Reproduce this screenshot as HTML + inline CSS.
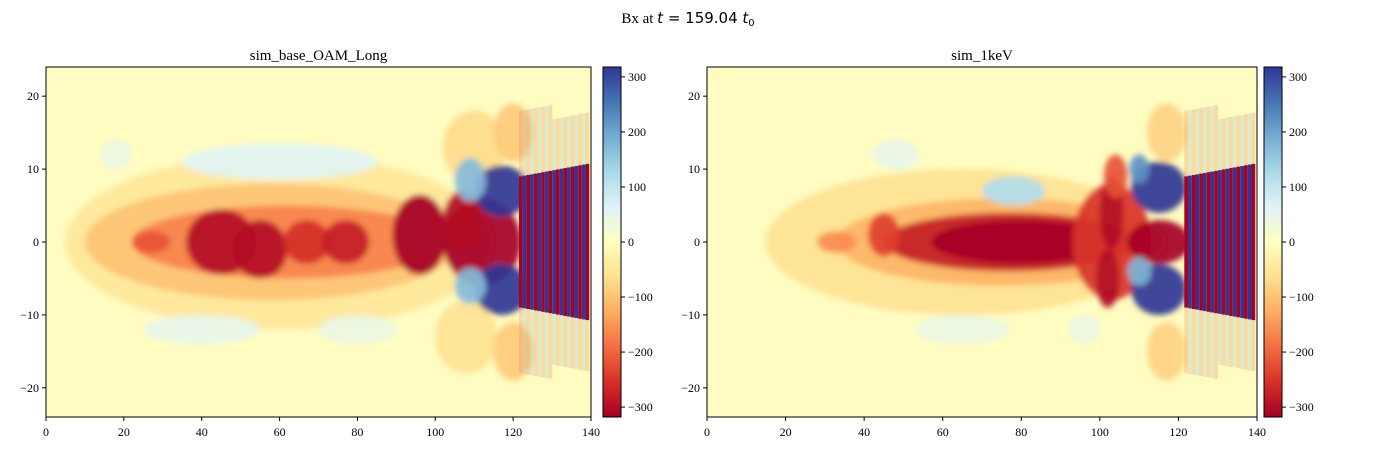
<!DOCTYPE html>
<html><head><meta charset="utf-8"><style>
body{margin:0;background:#fff;}
svg{display:block;font-family:"Liberation Serif",serif;}
</style></head><body>
<svg id="fig" width="1377" height="455">
<defs>
<linearGradient id="cmap" x1="0" y1="1" x2="0" y2="0">
<stop offset="0" stop-color="#a50026"/><stop offset="0.1" stop-color="#d73027"/><stop offset="0.2" stop-color="#f46d43"/><stop offset="0.3" stop-color="#fdae61"/><stop offset="0.4" stop-color="#fee090"/><stop offset="0.5" stop-color="#ffffbf"/><stop offset="0.6" stop-color="#e0f3f8"/><stop offset="0.7" stop-color="#abd9e9"/><stop offset="0.8" stop-color="#74add1"/><stop offset="0.9" stop-color="#4575b4"/><stop offset="1" stop-color="#313695"/>
</linearGradient>
<filter id="blur" x="-50%" y="-50%" width="200%" height="200%"><feGaussianBlur stdDeviation="3"/></filter>
<clipPath id="clipL"><rect x="46" y="67" width="545" height="350"/></clipPath>
<clipPath id="clipR"><rect x="707" y="67" width="550" height="350"/></clipPath>
</defs>
<text x="688" y="23" text-anchor="middle" font-size="15">Bx at <tspan font-family="'DejaVu Sans',sans-serif" font-style="italic">t</tspan><tspan font-family="'DejaVu Sans',sans-serif"> = 159.04 </tspan><tspan font-family="'DejaVu Sans',sans-serif" font-style="italic">t</tspan><tspan font-family="'DejaVu Sans',sans-serif" font-size="10" dy="3">0</tspan></text>
</svg>
<script>
// Blob features: [x, y, rx, ry, value]
const blobsLeft = [
 [60,0,55,12,-50],[58,0,48,8,-100],[62,0,40,5,-170],
 [45,0,9,4.5,-300],[55,-1,7,4,-300],[67,0,6,3,-260],[77,0,6,3,-280],[96,1,7,5.5,-320],
 [27,0,5,1.5,-220],[112,0,10,6,-320],[107,3,5,4,-300],
 [60,11,25,2.5,60],[40,-12,15,2,50],[80,-12,10,2,40],[18,12,4,2,40],
 [110,13,8,5,-70],[108,-13,8,5,-60],
 [117,7,7,3.5,340],[109,8.5,4,3,170],[117,-6.5,7,3.5,340],[109,-6,4,2.5,170],
 [120,15,5,4,-90],[120,-15,5,4,-90]
];
const blobsRight = [
 [65,0,50,10,-60],[75,0,42,6,-120],[77,0,32,4,-280],
 [80,0,23,3,-330],[45,1,4,3,-240],[33,0,5,1.5,-160],
 [103,0,10,8,-250],[103,4,3,5,-300],[102,-5,3,4,-300],[115,0,8,3,-320],
 [48,12,6,2,50],[78,7,8,2,120],[65,-12,12,2,40],[96,-12,4,2,40],
 [115,7.5,7,3.5,340],[110,10,2.5,2,220],[115,-6.5,7,3.5,340],[110,-4,3,2,180],
 [117,15,5,4,-80],[117,-15,5,4,-80],[104,9,3,3,-220]
];
const cbTicks = [300,200,100,0,-100,-200,-300];
const xTicks = [0,20,40,60,80,100,120,140];
const yTicks = [20,10,0,-10,-20];
const VMAX = 318;

const stops = ["#a50026","#d73027","#f46d43","#fdae61","#fee090","#ffffbf","#e0f3f8","#abd9e9","#74add1","#4575b4","#313695"];
function hex(h){return [1,3,5].map(i=>parseInt(h.substr(i,2),16));}
function color(v){
  let t=(v/VMAX+1)/2; t=Math.max(0,Math.min(1,t));
  const f=t*10, i=Math.min(9,Math.floor(f)), r=f-i;
  const a=hex(stops[i]), b=hex(stops[i+1]);
  return "rgb("+a.map((c,k)=>Math.round(c+(b[k]-c)*r)).join(",")+")";
}
const NS="http://www.w3.org/2000/svg";
const svg=document.getElementById('fig');
function mk(tag,attrs,parent){const e=document.createElementNS(NS,tag);for(const k in attrs)e.setAttribute(k,attrs[k]);(parent||svg).appendChild(e);return e;}

function panel(x0,w,clip,blobs,title,cbx,nm){
  const sx=v=>x0+v/140*w, sy=v=>242-v/24*175;
  const g=mk('g',{'clip-path':'url(#'+clip+')'});
  
  
  mk('rect',{x:x0,y:67,width:w,height:350,fill:'#fefcc0'},g);
  const bg=mk('g',{filter:'url(#blur)'},g);
  blobs.forEach(b=>{
    const e=mk('ellipse',{cx:sx(b[0]),cy:sy(b[1]),rx:b[2]/140*w,ry:b[3]/24*175,fill:color(b[4]),opacity:0.92},bg);
    
    
  });
  // oscillating wave front
  const step=0.95, pw=step/140*w;
  for(let xv=121.5,i=0;xv<139;xv+=step,i++){
    const h=9+(xv-121.5)*0.1;
    const hf=h+(xv<130?9:7);
    const s2=mk('rect',{x:sx(xv),y:sy(hf),width:pw,height:sy(-hf)-sy(hf),fill:i%2?color(160):color(-160),opacity:0.3},g);
    
    
    const s=mk('rect',{x:sx(xv),y:sy(h),width:pw,height:sy(-h)-sy(h),fill:i%2?color(330):color(-330)},g);
    
    
  }
  const fr=mk('rect',{x:x0,y:67,width:w,height:350,fill:'none',stroke:'#000','stroke-width':1});
  
  
  const t=mk('text',{x:x0+w/2,y:60,'text-anchor':'middle','font-size':15});
  t.textContent=title;
  
  
  xTicks.forEach(v=>{
    mk('line',{x1:sx(v),x2:sx(v),y1:417,y2:421,stroke:'#000'});
    const l=mk('text',{x:sx(v),y:436,'text-anchor':'middle','font-size':12});
    l.textContent=v;
    
    
  });
  yTicks.forEach(v=>{
    mk('line',{x1:x0-4,x2:x0,y1:sy(v),y2:sy(v),stroke:'#000'});
    const l=mk('text',{x:x0-7,y:sy(v)+4,'text-anchor':'end','font-size':12});
    l.textContent=v<0?'\u2212'+(-v):v;
    
    
  });
  const cb=mk('rect',{x:cbx,y:67,width:18,height:350,fill:'url(#cmap)',stroke:'#000','stroke-width':1});
  
  
  cbTicks.forEach(v=>{
    const y=242-v/VMAX*175;
    mk('line',{x1:cbx+18,x2:cbx+22,y1:y,y2:y,stroke:'#000'});
    const l=mk('text',{x:cbx+25,y:y+4,'font-size':12});
    l.textContent=v<0?'\u2212'+(-v):v;
    
    
  });
}
panel(46,545,'clipL',blobsLeft,'sim_base_OAM_Long',603,'left');
panel(707,550,'clipR',blobsRight,'sim_1keV',1264,'right');
</script>
</body></html>
